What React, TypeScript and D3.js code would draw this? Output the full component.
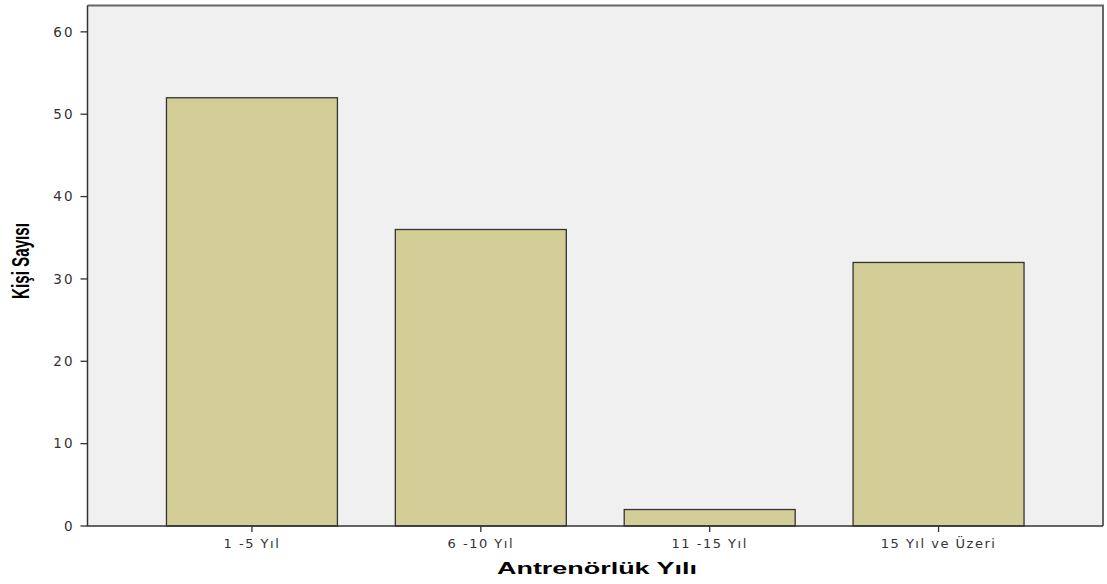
import React from "react";
import * as d3 from "d3";

const categories = ["1 -5 Yıl", "6 -10 Yıl", "11 -15 Yıl", "15 Yıl ve Üzeri"];
const counts = [52, 36, 2, 32];
const yTicks = [0, 10, 20, 30, 40, 50, 60];
const xTitle = "Antrenörlük Yılı";
const yTitle = "Kişi Sayısı";

const W = 1107;
const H = 584;
const left = 87.5;
const right = 1103;
const top = 5.5;
const bottom = 526;

export default function App() {
  const x = d3
    .scaleBand<string>()
    .domain(categories)
    .range([left, right])
    .paddingInner(0.253)
    .paddingOuter(0.345);
  const y = d3.scaleLinear().domain([0, 63.2]).range([bottom, top]);
  const font = "'DejaVu Sans', sans-serif";
  return (
    <svg
      width={W}
      height={H}
      style={{ position: "fixed", left: 0, top: 0, background: "#fff", display: "block" }}
    >
      <rect x={left} y={top} width={right - left} height={bottom - top} fill="#f0f0f0" />
      {categories.map((c, i) => (
        <rect
          key={c}
          x={x(c)!}
          y={y(counts[i])}
          width={x.bandwidth()}
          height={y(0) - y(counts[i])}
          fill="#d3ce97"
          stroke="#333"
          strokeWidth={1.3}
        />
      ))}
      {/* frame */}
      <path
        d={`M${left},${top}H${right}V${bottom}`}
        fill="none"
        stroke="#666"
        strokeWidth={2}
      />
      <path d={`M${left},${top}V${bottom}H${right}`} fill="none" stroke="#333" strokeWidth={1.5} />
      {yTicks.map((t) => (
        <g key={t}>
          <line x1={left - 7} x2={left} y1={y(t)} y2={y(t)} stroke="#333" strokeWidth={1.3} />
          <text
            x={left - 13}
            y={y(t)}
            dy="0.35em"
            textAnchor="end"
            fontFamily={font}
            fontSize={13.5}
            letterSpacing={2}
            fill="#333"
          >
            {t}
          </text>
        </g>
      ))}
      {categories.map((c) => {
        const cx = x(c)! + x.bandwidth() / 2;
        return (
          <g key={c}>
            <line x1={cx} x2={cx} y1={bottom} y2={bottom + 6} stroke="#333" strokeWidth={1.3} />
            <text
              x={cx}
              y={bottom + 22}
              textAnchor="middle"
              fontFamily={font}
              fontSize={13}
              letterSpacing={1.5}
              fill="#333"
            >
              {c}
            </text>
          </g>
        );
      })}
      <text
        x={597}
        y={574}
        textAnchor="middle"
        fontFamily="'Liberation Sans', Arial, sans-serif"
        fontWeight="bold"
        fontSize={16.5}
        textLength={200}
        lengthAdjust="spacingAndGlyphs"
        fill="#000"
      >
        {xTitle}
      </text>
      <text
        transform={`translate(29,261) rotate(-90)`}
        textAnchor="middle"
        fontFamily="'Liberation Sans Narrow', 'Liberation Sans', Arial, sans-serif"
        fontWeight="bold"
        fontSize={24}
        textLength={76}
        lengthAdjust="spacingAndGlyphs"
        fill="#000"
      >
        {yTitle}
      </text>
    </svg>
  );
}
